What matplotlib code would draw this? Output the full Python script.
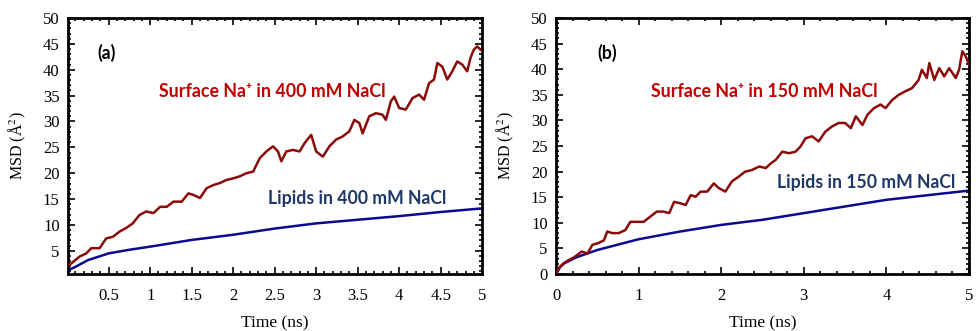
import matplotlib
matplotlib.use("Agg")
import matplotlib.pyplot as plt
from matplotlib.ticker import MultipleLocator, FormatStrFormatter

plt.rcParams['mathtext.fontset'] = 'stix'

# Panel (a): 400 mM NaCl
t_na_a = [0.03, 0.15, 0.23, 0.29, 0.39, 0.47, 0.55, 0.63, 0.71, 0.79, 0.87, 0.95, 1.04, 1.12, 1.20,
          1.28, 1.38, 1.46, 1.52, 1.60, 1.68, 1.76, 1.84, 1.92, 2.00, 2.08, 2.16, 2.24, 2.32, 2.40,
          2.48, 2.54, 2.58, 2.64, 2.72, 2.80, 2.86, 2.94, 3.00, 3.08, 3.16, 3.24, 3.32, 3.40, 3.46,
          3.52, 3.56, 3.64, 3.72, 3.80, 3.84, 3.90, 3.94, 4.00, 4.08, 4.16, 4.24, 4.30, 4.36, 4.42,
          4.46, 4.52, 4.58, 4.64, 4.70, 4.76, 4.82, 4.86, 4.90, 4.94, 4.98]
msd_na_a = [2.3, 3.9, 4.5, 5.5, 5.5, 7.4, 7.7, 8.7, 9.4, 10.3, 11.9, 12.6, 12.3, 13.5, 13.5,
            14.5, 14.5, 16.1, 15.8, 15.2, 17.1, 17.7, 18.1, 18.7, 19.0, 19.4, 20.0, 20.3, 22.9, 24.2,
            25.2, 24.2, 22.3, 24.2, 24.5, 24.2, 25.8, 27.4, 24.2, 23.2, 25.2, 26.5, 27.1, 28.1, 30.3,
            29.7, 27.7, 31.0, 31.6, 31.3, 30.3, 33.9, 34.8, 32.6, 32.3, 34.5, 35.2, 34.2, 37.4, 38.1,
            41.3, 40.6, 38.1, 39.7, 41.6, 41.0, 39.7, 42.3, 43.9, 44.5, 43.9]
t_lip_a = [0.03, 0.1, 0.25, 0.5, 0.75, 1.0, 1.5, 2.0, 2.5, 3.0, 3.5, 4.0, 4.5, 5.0]
msd_lip_a = [1.4, 1.9, 3.2, 4.5, 5.2, 5.8, 7.1, 8.1, 9.3, 10.3, 11.0, 11.7, 12.5, 13.2]

# Panel (b): 150 mM NaCl
t_na_b = [0.0, 0.03, 0.09, 0.15, 0.23, 0.31, 0.38, 0.44, 0.52, 0.58, 0.62, 0.68, 0.76, 0.84, 0.90,
          0.98, 1.06, 1.14, 1.22, 1.30, 1.37, 1.43, 1.51, 1.57, 1.63, 1.69, 1.75, 1.83, 1.91, 1.97,
          2.05, 2.13, 2.21, 2.29, 2.37, 2.46, 2.54, 2.60, 2.66, 2.74, 2.82, 2.90, 2.96, 3.02, 3.10,
          3.18, 3.26, 3.34, 3.42, 3.50, 3.57, 3.63, 3.71, 3.77, 3.85, 3.93, 3.99, 4.07, 4.15, 4.23,
          4.31, 4.39, 4.43, 4.49, 4.52, 4.58, 4.64, 4.70, 4.76, 4.84, 4.88, 4.92, 4.96, 5.00]
msd_na_b = [0.0, 1.1, 2.1, 2.7, 3.4, 4.4, 4.0, 5.7, 6.1, 6.6, 8.3, 8.0, 8.0, 8.6, 10.2,
            10.2, 10.2, 11.2, 12.2, 12.2, 11.9, 14.1, 13.8, 13.5, 15.4, 15.1, 16.1, 16.1, 17.7, 16.8,
            16.1, 18.1, 19.0, 20.0, 20.3, 21.0, 20.7, 21.6, 22.3, 23.9, 23.6, 23.9, 24.9, 26.5, 26.9,
            25.9, 27.8, 28.8, 29.5, 29.5, 28.5, 30.8, 29.1, 31.1, 32.4, 33.1, 32.4, 34.0, 35.0, 35.7,
            36.3, 37.9, 39.9, 38.3, 41.2, 37.9, 40.2, 38.6, 40.2, 38.3, 39.9, 43.5, 42.5, 40.9]
t_lip_b = [0.0, 0.05, 0.1, 0.25, 0.5, 1.0, 1.5, 2.0, 2.5, 3.0, 3.5, 4.0, 4.5, 5.0]
msd_lip_b = [0.0, 1.4, 2.1, 3.3, 4.7, 6.8, 8.3, 9.6, 10.6, 11.9, 13.2, 14.5, 15.4, 16.3]

red_line = '#8b0a0a'
blue_line = '#0a0a8c'
red_text = '#c00000'
blue_text = '#1f3868'
serif = ['Liberation Serif', 'DejaVu Serif']
ann_font = ['Lato', 'DejaVu Sans']

fig = plt.figure(figsize=(9.76, 3.31), dpi=100)
ax_a = fig.add_axes([0.0697, 0.172, 0.4243, 0.7736])
ax_b = fig.add_axes([0.5697, 0.172, 0.4231, 0.7736])

panels = [
    (ax_a, t_na_a, msd_na_a, t_lip_a, msd_lip_a, (0.01, 5), (0.5, 50), 0.5, 0.1,
     '(a)', (0.48, 43.3), 'Surface Na⁺ in 400 mM NaCl', (2.47, 35.7), 'Lipids in 400 mM NaCl', (3.49, 15.1)),
    (ax_b, t_na_b, msd_na_b, t_lip_b, msd_lip_b, (0, 5), (0, 50), 1, 0.2,
     '(b)', (0.62, 43.2), 'Surface Na⁺ in 150 mM NaCl', (2.52, 35.7), 'Lipids in 150 mM NaCl', (3.75, 17.9)),
]

for (ax, tn, mn, tl, ml, xl, yl, xmaj, xmin, lab, labpos, ntxt, npos, ltxt, lpos) in panels:
    ax.plot(tl, ml, color=blue_line, lw=1.8, zorder=2)
    ax.plot(tn, mn, color=red_line, lw=1.8, zorder=3)
    ax.set_xlim(*xl)
    ax.set_ylim(*yl)
    ax.xaxis.set_major_locator(MultipleLocator(xmaj))
    ax.xaxis.set_minor_locator(MultipleLocator(xmin))
    ax.xaxis.set_major_formatter(FormatStrFormatter('%g'))
    ax.yaxis.set_major_locator(MultipleLocator(5))
    ax.yaxis.set_minor_locator(MultipleLocator(1))
    ax.tick_params(which='both', direction='in', top=True, right=True, width=1.2)
    ax.tick_params(which='major', length=5, labelsize=12)
    ax.tick_params(axis='x', which='major', pad=10)
    ax.tick_params(axis='y', which='major', pad=6)
    ax.tick_params(which='minor', length=2.5)
    for lbl in ax.get_xticklabels() + ax.get_yticklabels():
        lbl.set_family(serif)
    for s in ax.spines.values():
        s.set_linewidth(2)
    ax.set_xlabel('Time (ns)', family=serif, fontsize=12.5, labelpad=8)
    ax.set_ylabel('MSD (Å$^{2}$)', family=serif, fontsize=11.5, labelpad=11)
    ax.text(*labpos, lab, family=ann_font, fontweight='bold', fontsize=12.7, color='black',
            ha='center', va='center')
    ax.text(*npos, ntxt, family=ann_font, fontweight='bold', fontsize=12.8, color=red_text,
            ha='center', va='center')
    ax.text(*lpos, ltxt, family=ann_font, fontweight='bold', fontsize=12.7, color=blue_text,
            ha='center', va='center')

fig.savefig('out.png', dpi=100)
